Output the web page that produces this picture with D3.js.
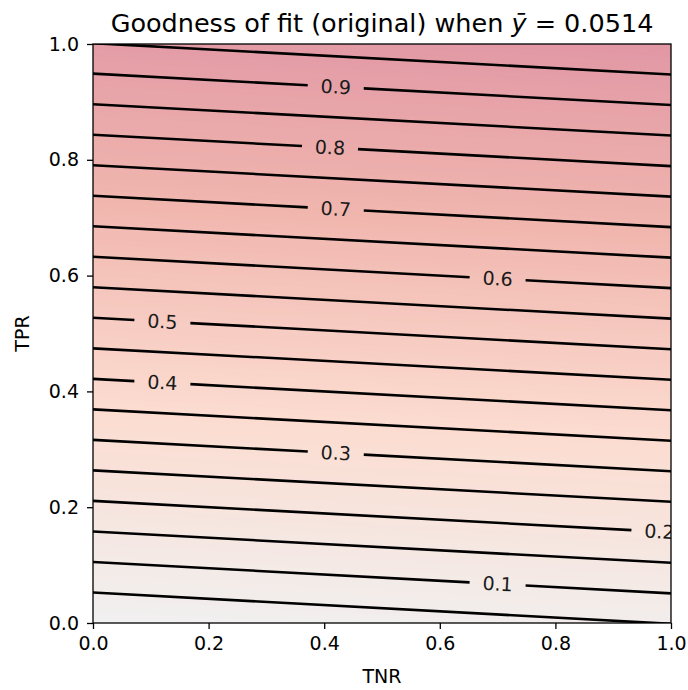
<!DOCTYPE html>
<html>
<head>
<meta charset="utf-8">
<title>Goodness of fit contour</title>
<script src="https://cdn.jsdelivr.net/npm/d3@7"></script>
<style>
  body { margin: 0; background: #fff; }
  text { font-family: "DejaVu Sans", sans-serif; fill: #000; }
</style>
</head>
<body>
<svg width="688" height="690"></svg>
<script>
// ---- data ----
var ybar = 0.0514;
var lineLevels = [0.05, 0.1, 0.15, 0.2, 0.25, 0.3, 0.35, 0.4, 0.45, 0.5,
                  0.55, 0.6, 0.65, 0.7, 0.75, 0.8, 0.85, 0.9, 0.95];
var labelLevels = [0.1, 0.2, 0.3, 0.4, 0.5, 0.6, 0.7, 0.8, 0.9];
var labelTNR    = [0.70, 0.98, 0.42, 0.12, 0.12, 0.70, 0.42, 0.41, 0.42];
var ticks = [0.0, 0.2, 0.4, 0.6, 0.8, 1.0];
var colorDomain = [0, 0.35, 0.7, 1.0];
var colorRange = ["#f0f0f0", "#fcdcd0", "#f0b5ae", "#e198a5"];

// goodness of fit as function of TNR, TPR
function fit(tnr, tpr) { return (1 - ybar) * tpr + ybar * tnr; }

var svg = d3.select("svg");
var mLeft = 93, mRight = 671, mTop = 44, mBottom = 623;

var x = d3.scaleLinear().domain([0, 1]).range([mLeft, mRight]);
var y = d3.scaleLinear().domain([0, 1]).range([mBottom, mTop]);
var color = d3.scaleLinear().domain(colorDomain).range(colorRange);

svg.append("clipPath").attr("id", "clip")
  .append("rect").attr("x", mLeft).attr("y", mTop)
  .attr("width", mRight - mLeft).attr("height", mBottom - mTop);

var plot = svg.append("g").attr("clip-path", "url(#clip)");

// filled contours on a grid
var n = 201;
var values = new Array(n * n);
for (var j = 0; j < n; j++) {
  for (var i = 0; i < n; i++) {
    values[j * n + i] = fit(i / (n - 1), j / (n - 1));
  }
}
var gx = d3.scaleLinear().domain([0.5, n - 0.5]).range([0, 1]);
var proj = d3.geoTransform({
  point: function (px, py) { this.stream.point(x(gx(px)), y(gx(py))); }
});
var path = d3.geoPath(proj);
var fillLevels = d3.range(0, 1.0001, 0.01);
var bands = d3.contours().size([n, n]).thresholds(fillLevels)(values);

plot.selectAll(".band")
  .data(bands)
  .enter().append("path")
  .attr("class", "band")
  .attr("d", path)
  .attr("fill", function (d) { return color(d.value + 0.005); })
  .attr("stroke", function (d) { return color(d.value + 0.005); })
  .attr("stroke-width", 0.6);

// contour lines (straight, since fit is linear), with gaps for labels
function tprAt(level, tnr) { return (level - ybar * tnr) / (1 - ybar); }

var fontSize = 19;
lineLevels.forEach(function (lev) {
  var li = labelLevels.findIndex(function (v) { return Math.abs(v - lev) < 1e-9; });
  var segs = [[-0.1, 1.1]];
  if (li >= 0) {
    var cx = x(labelTNR[li]);
    var half = 28;
    segs = [[-0.1, x.invert(cx - half)], [x.invert(cx + half), 1.1]];
  }
  segs.forEach(function (s) {
    plot.append("line")
      .attr("x1", x(s[0])).attr("y1", y(tprAt(lev, s[0])))
      .attr("x2", x(s[1])).attr("y2", y(tprAt(lev, s[1])))
      .attr("stroke", "#000").attr("stroke-width", 2.6);
  });
});

// contour labels
labelLevels.forEach(function (lev, k) {
  var t = labelTNR[k];
  var ang = Math.atan2(y(tprAt(lev, 1)) - y(tprAt(lev, 0)), x(1) - x(0)) * 180 / Math.PI;
  plot.append("text")
    .attr("transform", "translate(" + x(t) + "," + y(tprAt(lev, t)) + ") rotate(" + ang + ")")
    .attr("text-anchor", "middle")
    .attr("dy", "0.35em")
    .attr("font-size", fontSize)
    .style("fill", "#1a1a1a")
    .text(lev.toFixed(1));
});

// axes
var xAxis = d3.axisBottom(x).tickValues(ticks).tickFormat(d3.format(".1f")).tickSize(6).tickPadding(8);
var yAxis = d3.axisLeft(y).tickValues(ticks).tickFormat(d3.format(".1f")).tickSize(6).tickPadding(8);

var gxA = svg.append("g").attr("transform", "translate(0," + mBottom + ")").call(xAxis);
var gyA = svg.append("g").attr("transform", "translate(" + mLeft + ",0)").call(yAxis);
[gxA, gyA].forEach(function (g) {
  g.select(".domain").remove();
  g.selectAll(".tick line").attr("stroke", "#000").attr("stroke-width", 1.3);
  g.selectAll(".tick text").attr("font-size", 19).attr("font-family", "DejaVu Sans").style("fill", "#000");
});

svg.append("rect")
  .attr("x", mLeft).attr("y", mTop)
  .attr("width", mRight - mLeft).attr("height", mBottom - mTop)
  .attr("fill", "none").attr("stroke", "#000").attr("stroke-width", 1.3);

// labels and title
svg.append("text")
  .attr("x", (mLeft + mRight) / 2).attr("y", 683)
  .attr("text-anchor", "middle").attr("font-size", 19)
  .text("TNR");

svg.append("text")
  .attr("transform", "translate(29," + (mTop + mBottom) / 2 + ") rotate(-90)")
  .attr("text-anchor", "middle").attr("font-size", 19)
  .text("TPR");

var title = svg.append("text")
  .attr("x", (mLeft + mRight) / 2).attr("y", 32)
  .attr("text-anchor", "middle").attr("font-size", 25.5);
title.append("tspan").text("Goodness of fit (original) when ");
title.append("tspan").attr("font-style", "italic").text("\u0233");
title.append("tspan").text(" = " + ybar);
</script>
</body>
</html>
